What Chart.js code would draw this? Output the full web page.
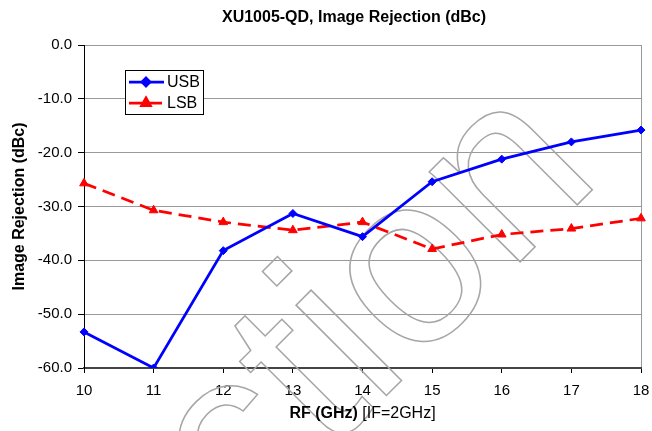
<!DOCTYPE html>
<html>
<head>
<meta charset="utf-8">
<script src="https://cdn.jsdelivr.net/npm/chart.js@4/dist/chart.umd.min.js"></script>
<style>
  body { margin: 0; background: #fff; }
  canvas { display: block; }
</style>
</head>
<body>
<canvas id="chart" width="652" height="431"></canvas>
<script>
// RF frequency (GHz), IF = 2 GHz
const rfLabels = ['10', '11', '12', '13', '14', '15', '16', '17', '18'];
// image rejection, dBc
const usbValues = [-53.3, -60.0, -38.2, -31.3, -35.6, -25.4, -21.2, -18.0, -15.8];
const lsbValues = [-25.7, -30.7, -32.9, -34.4, -32.9, -37.9, -35.2, -34.1, -32.2];

const chartTitle = 'XU1005-QD, Image Rejection (dBc)';
const yTitle = 'Image Rejection (dBc)';
const xTitleBold = 'RF (GHz)';
const xTitleRest = ' [IF=2GHz]';
const watermarkText = 'Production';

const FONT = '"Liberation Sans", Arial, sans-serif';

// outlined watermark behind the lines
const watermarkPlugin = {
  id: 'watermark',
  beforeDatasetsDraw(chart) {
    const ctx = chart.ctx;
    ctx.save();
    ctx.font = '242px ' + FONT;
    const before = ctx.measureText('Product').width;
    ctx.translate(375, 407);
    ctx.rotate(-Math.PI / 4);
    ctx.strokeStyle = '#a6a6a6';
    ctx.lineWidth = 1.5;
    ctx.textBaseline = 'alphabetic';
    ctx.textAlign = 'left';
    ctx.strokeText(watermarkText, -before, 0);
    ctx.restore();
  }
};

// titles and the boxed legend
const decorPlugin = {
  id: 'decor',
  afterDraw(chart) {
    const ctx = chart.ctx;
    const area = chart.chartArea;
    ctx.save();
    ctx.fillStyle = '#000';

    ctx.font = 'bold 16px ' + FONT;
    ctx.textAlign = 'center';
    ctx.textBaseline = 'middle';
    ctx.fillText(chartTitle, 354, 18);

    ctx.save();
    ctx.translate(20, (area.top + area.bottom) / 2);
    ctx.rotate(-Math.PI / 2);
    ctx.fillText(yTitle, 0, 0);
    ctx.restore();

    // x title: bold part + plain part
    ctx.font = 'bold 16px ' + FONT;
    const wb = ctx.measureText(xTitleBold).width;
    ctx.font = '16px ' + FONT;
    const wr = ctx.measureText(xTitleRest).width;
    const x0 = (area.left + area.right) / 2 - (wb + wr) / 2;
    ctx.textAlign = 'left';
    ctx.font = 'bold 16px ' + FONT;
    ctx.fillText(xTitleBold, x0, 414);
    ctx.font = '16px ' + FONT;
    ctx.fillText(xTitleRest, x0 + wb, 414);

    // legend
    ctx.fillStyle = '#fff';
    ctx.fillRect(125.5, 70.5, 78, 44);
    ctx.strokeStyle = '#000';
    ctx.lineWidth = 1;
    ctx.strokeRect(125.5, 70.5, 78, 44);
    const rows = [82, 103];
    chart.data.datasets.forEach((ds, i) => {
      const y = rows[i];
      ctx.strokeStyle = ds.borderColor;
      ctx.lineWidth = ds.borderWidth;
      ctx.setLineDash(ds.borderDash || []);
      ctx.beginPath();
      ctx.moveTo(129, y);
      ctx.lineTo(164, y);
      ctx.stroke();
      ctx.setLineDash([]);
      Chart.helpers.drawPoint(ctx, {
        pointStyle: ds.pointStyle,
        radius: ds.pointRadius,
        borderWidth: 1,
        rotation: 0
      }, 146, y);
      ctx.fillStyle = ds.borderColor;
      ctx.fill();
      ctx.fillStyle = '#000';
      ctx.font = '16px ' + FONT;
      ctx.textBaseline = 'middle';
      ctx.fillText(ds.label, 167, y + 1);
    });
    ctx.restore();
  }
};

new Chart(document.getElementById('chart'), {
  type: 'line',
  data: {
    labels: rfLabels,
    datasets: [
      {
        label: 'USB',
        data: usbValues,
        borderColor: '#0000ff',
        backgroundColor: '#0000ff',
        borderWidth: 2.75,
        pointStyle: 'rectRot',
        pointRadius: 4,
        pointBorderWidth: 1,
        tension: 0
      },
      {
        label: 'LSB',
        data: lsbValues,
        borderColor: '#ff0000',
        backgroundColor: '#ff0000',
        borderWidth: 2.75,
        borderDash: [13, 7],
        pointStyle: 'triangle',
        pointRadius: 5,
        pointBorderWidth: 1,
        tension: 0
      }
    ]
  },
  options: {
    responsive: false,
    animation: false,
    layout: { autoPadding: false, padding: { top: 45, right: 11, left: 0, bottom: 0 } },
    plugins: {
      legend: { display: false },
      title: { display: false },
      tooltip: { enabled: false }
    },
    scales: {
      x: {
        afterFit: (s) => { s.height = 63; s.paddingLeft = 0; s.paddingRight = 0; },
        grid: {
          drawOnChartArea: true,
          color: (c) => (c.index === rfLabels.length - 1 ? '#999' : 'rgba(0,0,0,0)'),
          tickColor: '#000',
          tickLength: 5
        },
        border: { color: '#444', width: 2 },
        ticks: {
          color: '#000',
          font: { family: FONT, size: 15 },
          padding: 9,
          maxRotation: 0,
          autoSkip: false
        }
      },
      y: {
        min: -60,
        max: 0,
        afterFit: (s) => { s.width = 84; s.paddingTop = 0; s.paddingBottom = 0; },
        grid: {
          color: '#999',
          tickColor: '#000',
          tickLength: 6
        },
        border: { color: '#000', width: 1 },
        ticks: {
          stepSize: 10,
          color: '#000',
          font: { family: FONT, size: 15 },
          padding: 6,
          callback: (v) => v.toFixed(1)
        }
      }
    }
  },
  plugins: [watermarkPlugin, decorPlugin]
});
</script>
</body>
</html>
